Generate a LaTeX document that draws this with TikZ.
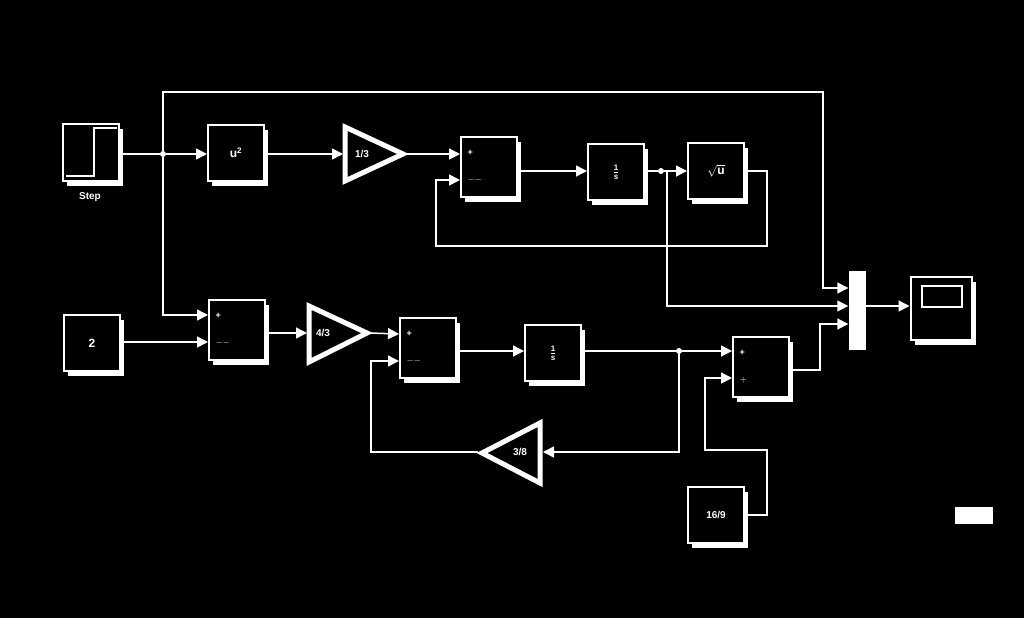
\documentclass[tikz,border=0pt]{standalone}
\usepackage{fontspec}
\setmainfont{Liberation Sans}
\usetikzlibrary{arrows.meta,shadows,calc}
\begin{document}
\begin{tikzpicture}[x=1pt,y=-1pt,
  every node/.style={font=\bfseries\large, text=white},
  blk/.style={draw=white,line width=2pt,fill=black,minimum width=56pt,minimum height=56pt,inner sep=0pt,
     drop shadow={shadow xshift=4pt,shadow yshift=-5pt,fill=white,opacity=1}},
  w/.style={draw=white,line width=1.5pt},
  arr/.style={w,-{Triangle[length=11pt,width=11pt]}},
  gain/.style={draw=white,line width=5pt,line join=miter,fill=black},
  dot/.style={circle,fill=white,inner sep=0pt,minimum size=6pt}]
\fill[black] (0,0) rectangle (1024,618);
\useasboundingbox (0,0) rectangle (1024,618);
% blocks
\node[blk,minimum height=57pt] (step) at (91,152) {};
\draw[white,line width=1.5pt] (66,176) -- (94,176) -- (94,128) -- (117,128);
\node[font=\bfseries\normalsize] (steplbl) at (90,197) {Step};
\node[blk] (u2) at (236,153) {u$^{\mathbf 2}$};
\node[blk,minimum height=60pt] (sum1) at (489,167) {};
\node[blk] (int1) at (616,172) {$\frac{\mathbf 1}{\mathbf s}$};
\node[blk] (sqrt) at (716,171) {$\sqrt{\mathbf u}$};
\node[blk,minimum height=60pt] (sum2) at (237,330) {};
\node[blk] (two) at (92,343) {2};
\node[blk,minimum height=60pt] (sum3) at (428,348) {};
\node[blk] (int2) at (553,353) {$\frac{\mathbf 1}{\mathbf s}$};
\node[blk,minimum height=60pt] (sum4) at (761,367) {};
\node[blk,font=\bfseries\normalsize] (c169) at (716,515) {16/9};
\node[blk,minimum width=61pt,minimum height=63pt] (scope) at (941,308) {};
\draw[white,line width=1.5pt] (922,286) rectangle (962,307);
\node[fill=white,minimum width=17pt,minimum height=79pt,inner sep=0pt] (mux) at (857,310) {};
\node[fill=white,minimum width=38pt,minimum height=17pt,inner sep=0pt] (rect) at (974,515) {};
% sum signs
\foreach \s/\a/\b in {sum1/+/--,sum2/+/--,sum3/+/--,sum4/+/+}{
  \node[font=\bfseries\small,anchor=west] at ($(\s.north west)+(4,17)$) {\a};
  \node[font=\bfseries\small,anchor=west] at ($(\s.north west)+(4,44)$) {$\mathbf{\b}$};
}
\foreach \s in {sum1,sum2,sum3,sum4}{
  \node[font=\bfseries\small,anchor=west] at ($(\s.north west)+(4,44)$) {};}
% gains
\draw[gain] (345,127) -- (403,154) -- (345,181) -- cycle;
\coordinate (g1in) at (343,154); \coordinate (g1out) at (406,154);
\node[font=\bfseries\normalsize] (g1) at (362,154) {1/3};
\draw[gain] (309,306) -- (367,333) -- (309,362) -- cycle;
\coordinate (g2in) at (307,333); \coordinate (g2out) at (370,333);
\node[font=\bfseries\normalsize] (g2) at (323,333) {4/3};
\draw[gain] (540,423) -- (482,453) -- (540,483) -- cycle;
\coordinate (g3in) at (543,452); \coordinate (g3out) at (478,452);
\node[font=\bfseries\normalsize] (g3) at (520,452) {3/8};
% connectors
\node[dot] (j1) at (163,154) {};
\node[dot] (j2) at (661,171) {};
\node[dot] (j3) at (679,351) {};
\draw[w] (step.east|-0,154) -- (j1);
\draw[arr] (j1) -- (u2.west|-0,154);
\draw[arr] (u2.east|-0,154) -- (g1in);
\draw[arr] (g1out) -- (sum1.west|-0,154);
\draw[arr] (sum1.east|-0,171) -- (int1.west|-0,171);
\draw[w] (int1.east|-0,171) -- (j2);
\draw[arr] (j2) -- (sqrt.west|-0,171);
\draw[arr] (sqrt.east|-0,171) -- (767,171) -- (767,246) -- (436,246) -- (436,180) -- (sum1.west|-0,180);
\draw[arr] (j1) -- (163,92) -- (823,92) -- (823,288) -- (mux.west|-0,288);
\draw[arr] (j2) -- (667,171) -- (667,306) -- (mux.west|-0,306);
\draw[arr] (mux.east|-0,306) -- (scope.west|-0,306);
\draw[arr] (j1) -- (163,315) -- (sum2.west|-0,315);
\draw[arr] (two.east|-0,342) -- (sum2.west|-0,342);
\draw[arr] (sum2.east|-0,333) -- (g2in);
\draw[arr] (g2out) -- (sum3.west|-0,334);
\draw[arr] (sum3.east|-0,351) -- (int2.west|-0,351);
\draw[w] (int2.east|-0,351) -- (j3);
\draw[arr] (j3) -- (sum4.west|-0,351);
\draw[arr] (j3) -- (679,452) -- (g3in);
\draw[arr] (g3out) -- (371,452) -- (371,361) -- (sum3.west|-0,361);
\draw[arr] (c169.east|-0,515) -- (767,515) -- (767,450) -- (705,450) -- (705,378) -- (sum4.west|-0,378);
\draw[arr] (sum4.east|-0,370) -- (820,370) -- (820,324) -- (mux.west|-0,324);
\end{tikzpicture}
\end{document}
